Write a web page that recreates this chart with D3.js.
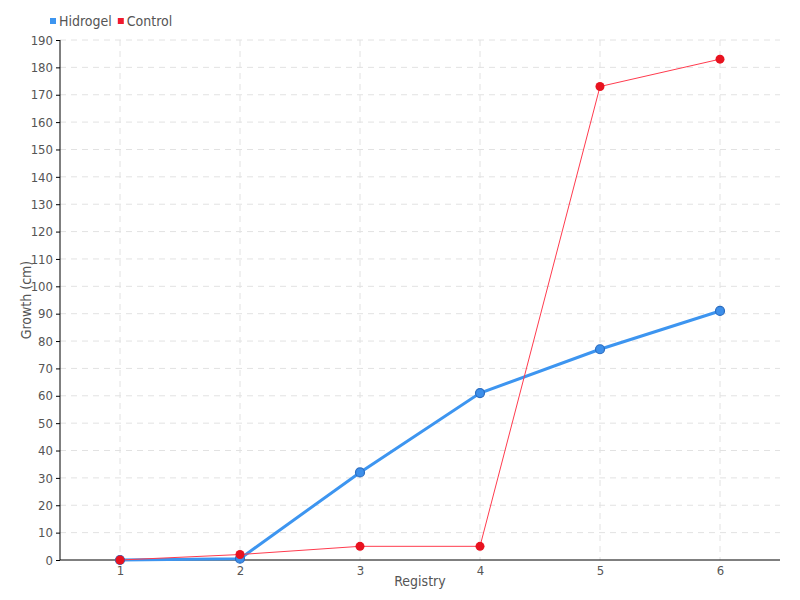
<!DOCTYPE html>
<html><head><meta charset="utf-8">
<script src="https://cdn.jsdelivr.net/npm/d3@7/dist/d3.min.js"></script>
<style>
body{margin:0;background:#fff;}
text{font-family:"DejaVu Sans Condensed","Liberation Sans Narrow",sans-serif;fill:#555;}
</style></head>
<body><svg id="c" width="800" height="600"></svg>
<script>
const categories = ["1","2","3","4","5","6"];
const hidrogel = [0, 0.5, 32, 61, 77, 91];
const control = [0, 2, 5, 5, 173, 183];
const yTicks = d3.range(0, 191, 10);
const seriesNames = ["Hidrogel", "Control"];
const colors = ["#3d95f0", "#f0192e"];

const svg = d3.select("#c");
const m = {l:60, r:20, t:40, b:40};
const W = 800, H = 600;
const x = d3.scalePoint().domain(categories).range([m.l, W-m.r]).padding(0.5);
const y = d3.scaleLinear().domain([0,190]).range([H-m.b, m.t]);

// grid
const g = svg.append("g");
g.selectAll("line.h").data(yTicks.filter(d=>d>0)).join("line")
  .attr("x1", m.l).attr("x2", W-m.r).attr("y1", d=>y(d)).attr("y2", d=>y(d))
  .attr("stroke","#e2e2e2").attr("stroke-dasharray","6,5");
g.selectAll("line.v").data(categories).join("line")
  .attr("x1", d=>x(d)).attr("x2", d=>x(d)).attr("y1", m.t).attr("y2", H-m.b)
  .attr("stroke","#e2e2e2").attr("stroke-dasharray","6,5");

// axes
const ya = svg.append("g").attr("transform",`translate(${m.l},0)`)
  .call(d3.axisLeft(y).tickValues(yTicks).tickSize(4).tickPadding(3));
ya.select(".domain").attr("stroke","#000").attr("d",`M0,${m.t}V${H-m.b}`);
ya.selectAll("text").style("font-size","13px").attr("fill","#555");
const xa = svg.append("g").attr("transform",`translate(0,${H-m.b})`)
  .call(d3.axisBottom(x).tickSize(0).tickPadding(6));
xa.select(".domain").attr("stroke","#000").attr("d",`M${m.l},0H${W-m.r}`);
xa.selectAll("text").style("font-size","13px").attr("fill","#555");

// titles
svg.append("text").attr("x", (m.l + W - m.r)/2).attr("y", 586).attr("text-anchor","middle")
  .style("font-size","14px").text("Registry");
svg.append("text").attr("transform","translate(31,300) rotate(-90)").attr("text-anchor","middle")
  .style("font-size","14px").text("Growth (cm)");

const line = d3.line().x((d,i)=>x(categories[i])).y(d=>y(d));
// hidrogel
svg.append("path").datum(hidrogel).attr("d", line).attr("fill","none")
  .attr("stroke", colors[0]).attr("stroke-width",3);
svg.append("path").datum(control).attr("d", line).attr("fill","none")
  .attr("stroke", "#ff3b4e").attr("stroke-width",1);
svg.selectAll("circle.h").data(hidrogel).join("circle")
  .attr("cx",(d,i)=>x(categories[i])).attr("cy", d=>y(d)).attr("r",4.5)
  .attr("fill","#3d8fea").attr("stroke","#2a6cc0").attr("stroke-width",1.2);
svg.selectAll("circle.c").data(control).join("circle")
  .attr("cx",(d,i)=>x(categories[i])).attr("cy", d=>y(d)).attr("r",4.5)
  .attr("fill","#e8121f");

// legend
const lg = svg.append("g");
let lx = 50;
seriesNames.forEach((n,i)=>{
  lg.append("rect").attr("x", lx).attr("y", 18).attr("width",6).attr("height",6).attr("fill", colors[i]);
  const t = lg.append("text").attr("x", lx+9).attr("y", 26).style("font-size","14px").text(n);
  lx += 9 + t.node().getComputedTextLength() + 6;
});
</script></body></html>
